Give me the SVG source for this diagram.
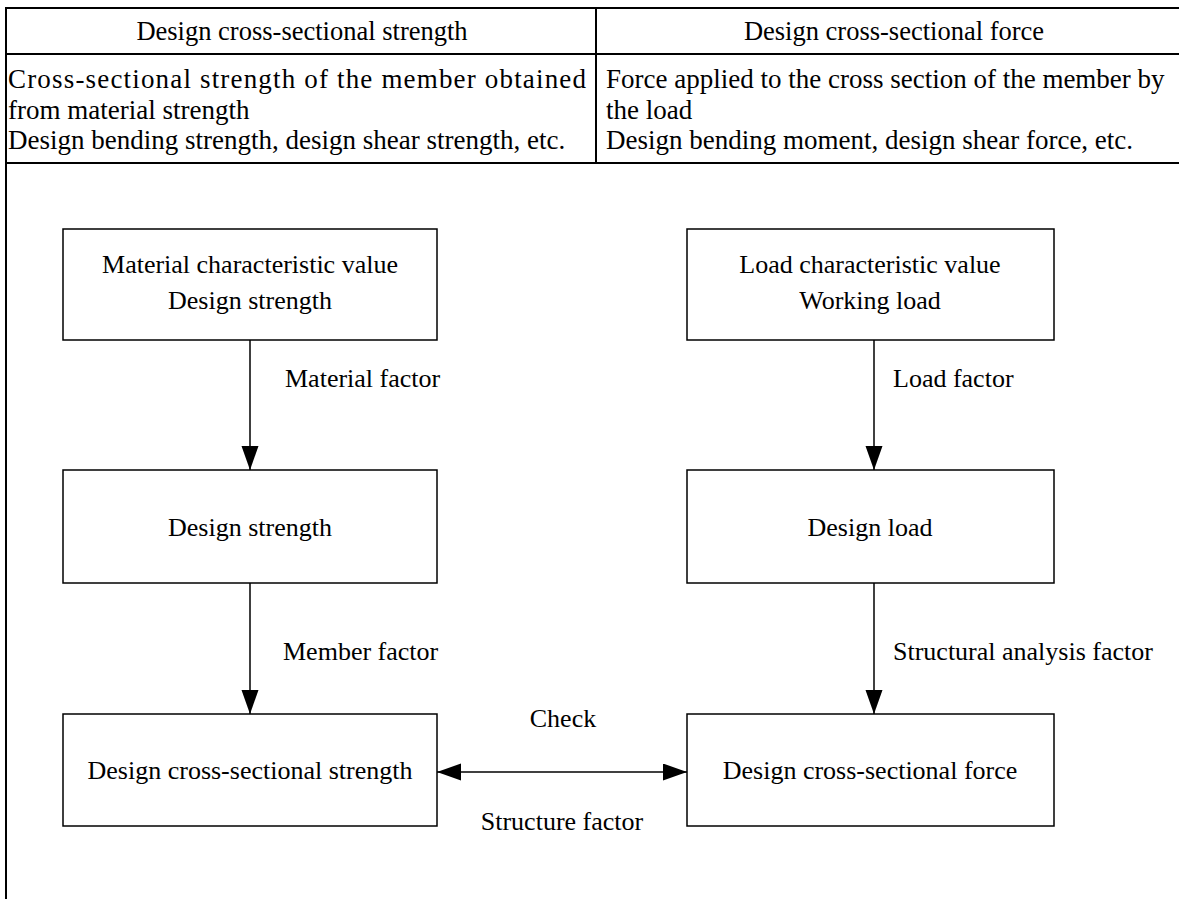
<svg xmlns="http://www.w3.org/2000/svg" width="1179" height="899" viewBox="0 0 1179 899">
<style>
text{font-family:'Liberation Serif','Tinos','Times New Roman','DejaVu Serif',serif;fill:#000}
.h{font-size:26.5px}
.t{font-size:27px}
.d{font-size:26px}
.c{text-anchor:middle}
.box{fill:#fff;stroke:#000;stroke-width:1.5}
.tab{stroke:#000;stroke-width:2;fill:none}
.con{stroke:#000;stroke-width:1.5;fill:none}
</style>
<defs>
<marker id="ah" markerUnits="userSpaceOnUse" markerWidth="25" markerHeight="18" refX="24" refY="8.5" orient="auto-start-reverse">
<path d="M0,0 L24,8.5 L0,17 Z" fill="#000"/>
</marker>
</defs>
<rect width="1179" height="899" fill="#fff"/>
<g id="table">
<path class="tab" d="M6,899 V8 H1179 M6,54 H1179 M6,163 H1179 M596,8 V163"/>
<text class="h c" x="302" y="40">Design cross-sectional strength</text>
<text class="h c" x="894" y="40">Design cross-sectional force</text>
<text class="t" x="8" y="88" textLength="578" lengthAdjust="spacing">Cross-sectional strength of the member obtained</text>
<text class="t" x="8" y="119">from material strength</text>
<text class="t" x="8" y="149">Design bending strength, design shear strength, etc.</text>
<text class="t" x="606" y="88">Force applied to the cross section of the member by</text>
<text class="t" x="606" y="119">the load</text>
<text class="t" x="606" y="149">Design bending moment, design shear force, etc.</text>
</g>
<g id="connectors">
<line class="con" x1="250" y1="340" x2="250" y2="470" marker-end="url(#ah)"/>
<line class="con" x1="874" y1="340" x2="874" y2="470" marker-end="url(#ah)"/>
<line class="con" x1="250" y1="583" x2="250" y2="714" marker-end="url(#ah)"/>
<line class="con" x1="874" y1="583" x2="874" y2="714" marker-end="url(#ah)"/>
<line class="con" x1="437" y1="772" x2="687" y2="772" marker-start="url(#ah)" marker-end="url(#ah)"/>
<text class="d" x="285" y="387">Material factor</text>
<text class="d" x="893" y="387">Load factor</text>
<text class="d" x="283" y="660">Member factor</text>
<text class="d" x="893" y="660">Structural analysis factor</text>
<text class="d c" x="563" y="727">Check</text>
<text class="d c" x="562" y="830">Structure factor</text>
</g>
<g id="material-characteristic">
<rect class="box" x="63" y="229" width="374" height="111"/>
<text class="d c" x="250" y="273">Material characteristic value</text>
<text class="d c" x="250" y="309">Design strength</text>
</g>
<g id="load-characteristic">
<rect class="box" x="687" y="229" width="367" height="111"/>
<text class="d c" x="870" y="273">Load characteristic value</text>
<text class="d c" x="870" y="309">Working load</text>
</g>
<g id="design-strength">
<rect class="box" x="63" y="470" width="374" height="113"/>
<text class="d c" x="250" y="536">Design strength</text>
</g>
<g id="design-load">
<rect class="box" x="687" y="470" width="367" height="113"/>
<text class="d c" x="870" y="536">Design load</text>
</g>
<g id="design-cs-strength">
<rect class="box" x="63" y="714" width="374" height="112"/>
<text class="d c" x="250" y="779">Design cross-sectional strength</text>
</g>
<g id="design-cs-force">
<rect class="box" x="687" y="714" width="367" height="112"/>
<text class="d c" x="870" y="779">Design cross-sectional force</text>
</g>
</svg>
